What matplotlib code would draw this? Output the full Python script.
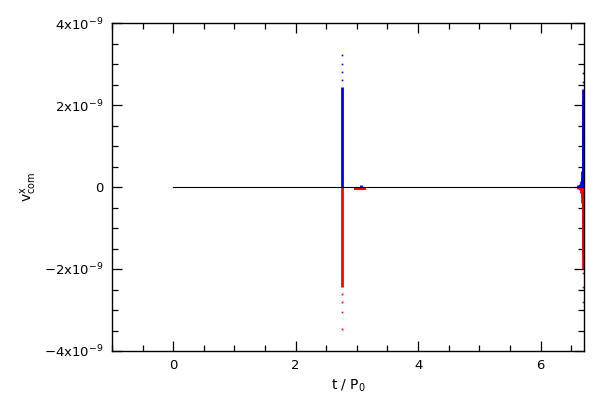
import matplotlib
matplotlib.use("Agg")
import matplotlib.pyplot as plt
from matplotlib.ticker import MultipleLocator, FuncFormatter

plt.rcParams['font.family'] = ['DejaVu Sans']
plt.rcParams['mathtext.default'] = 'regular'

# time in units of P_0, velocity in units of 1e-9
t_black = [0.0, 6.71]
v_black = [0.0, 0.0]

# spike events (drawn as vertical bars from zero)
t_blue = [2.760, 3.06, 6.62, 6.64, 6.66, 6.67, 6.68, 6.69, 6.695, 6.70]
v_blue = [2.45, 0.06, 0.04, 0.08, 0.15, 0.25, 0.40, 2.10, 1.20, 2.40]
t_red = [2.760, 6.62, 6.64, 6.66, 6.67, 6.68, 6.69, 6.695, 6.70]
v_red = [-2.45, -0.04, -0.08, -0.15, -0.25, -0.40, -1.70, -1.00, -2.00]

# small red offset after the first spike
t_red_bar = [2.97, 3.14]
v_red_bar = [-0.05, -0.05]

t_blue_dots = [2.762, 2.763, 2.764, 2.765, 6.692, 6.695, 6.698]
v_blue_dots = [2.60, 2.80, 3.00, 3.22, 2.30, 2.55, 2.78]
t_red_dots = [2.762, 2.763, 2.764, 2.765, 6.692, 6.695, 6.698]
v_red_dots = [-2.60, -2.80, -3.05, -3.46, -2.10, -2.45, -2.80]

scale = 1e-9

fig = plt.figure(figsize=(6, 4), dpi=100)
ax = fig.add_axes([112/600, 1-351/400, 472/600, 328/400])

ax.vlines(t_blue, 0, [v*scale for v in v_blue], color='blue', lw=2)
ax.vlines(t_red, 0, [v*scale for v in v_red], color='red', lw=2)
ax.plot(t_red_bar, [v*scale for v in v_red_bar], color='red', lw=1.5)
ax.plot(t_blue_dots, [v*scale for v in v_blue_dots], 's', color='blue', ms=1.2, mew=0)
ax.plot(t_red_dots, [v*scale for v in v_red_dots], 's', color='red', ms=1.2, mew=0)
ax.plot(t_black, v_black, color='black', lw=0.8)

ax.set_xlim(-1.0, 6.71)
ax.set_ylim(-4e-9, 4e-9)

ax.xaxis.set_major_locator(MultipleLocator(2))
ax.xaxis.set_minor_locator(MultipleLocator(0.5))
ax.yaxis.set_major_locator(MultipleLocator(2e-9))
ax.yaxis.set_minor_locator(MultipleLocator(0.5e-9))


def yfmt(v, pos):
    m = round(v / 1e-9)
    if m == 0:
        return '0'
    s = '\u2212' if m < 0 else ''
    return s + '%dx10$^{-9}$' % abs(m)


ax.yaxis.set_major_formatter(FuncFormatter(yfmt))
ax.tick_params(which='both', direction='in', top=True, right=True, width=0.9, labelsize=9.5, pad=6)
ax.tick_params(which='major', length=7)
ax.tick_params(which='minor', length=4)
for sp in ax.spines.values():
    sp.set_linewidth(1)

ax.set_xlabel('t / P$_0$', fontsize=10)
ax.set_ylabel('v$^x_{com}$', fontsize=10, labelpad=4)

fig.savefig('out.png', dpi=100)
